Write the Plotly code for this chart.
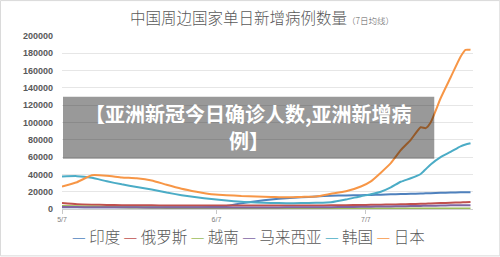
import pandas as pd
import plotly.graph_objects as go

# ---- data ----
start_date = "2021-05-07"
sample_days = [0, 3, 6, 9, 12, 15, 18, 21, 24, 27, 30, 33, 36, 39, 42, 45, 48, 51,
               54, 57, 60, 62, 64, 66, 68, 70, 72, 73, 74, 76, 78, 80, 81, 82]

india = [1900, 1900, 1900, 1900, 1900, 1900, 1900, 1900, 1900, 2000, 2200, 3500,
         6500, 9000, 11000, 12500, 13500, 14500, 15300, 15700, 16000, 16300, 16600,
         17000, 17300, 17500, 17900, 18100, 18300, 18700, 19000, 19400, 19500, 19400]
russia = [7000, 5600, 5000, 4600, 4400, 4300, 4200, 4100, 4000, 4000, 4000, 4000,
          4000, 4000, 4000, 4000, 4000, 4100, 4200, 4400, 4600, 4800, 5000, 5200,
          5400, 5700, 6000, 6200, 6400, 6800, 7200, 7600, 7800, 8100]
vietnam = [3600, 3200, 2800, 2400, 2000, 1700, 1500, 1300, 1200, 1100, 1000, 900,
           850, 800, 800, 750, 700, 700, 700, 650, 650, 650, 650, 650, 650, 650,
           650, 650, 650, 650, 650, 650, 650, 650]
malaysia = [2300, 2200, 2100, 2000, 1900, 1900, 1800, 1800, 1800, 1800, 1800, 1800,
            1800, 1800, 1800, 1900, 1900, 2000, 2100, 2300, 2500, 2700, 2900, 3000,
            3200, 3400, 3600, 3700, 3800, 4000, 4200, 4300, 4400, 4400]
korea = [37500, 38000, 36000, 32000, 28500, 25500, 22500, 19000, 16000, 13500, 11500,
         9800, 8300, 7500, 7000, 6700, 6800, 7200, 7900, 11000, 14800, 17000, 20000,
         25000, 31500, 35500, 40500, 46000, 51500, 60000, 66000, 72500, 74500, 76000]
japan = [26000, 31000, 39000, 38500, 36500, 35500, 33000, 28000, 23500, 20000, 17000,
         16000, 15000, 14500, 14000, 13500, 14000, 14500, 17500, 20500, 26000, 32000,
         42000, 53000, 68000, 80000, 94500, 93500, 100000, 128000, 152000, 176000,
         184000, 184000]

series_names = ["印度", "俄罗斯", "越南", "马来西亚", "韩国", "日本"]
series_values = [india, russia, vietnam, malaysia, korea, japan]
series_colors = ["#4f81bd", "#c0504d", "#9bbb59", "#8064a2", "#4bacc6", "#f79646"]

y_ticks = [0, 20000, 40000, 60000, 80000, 100000, 120000, 140000, 160000, 180000, 200000]
x_tick_dates = ["2021-05-07", "2021-06-07", "2021-07-07"]
x_tick_labels = ["5/7", "6/7", "7/7"]

title_main = "中国周边国家单日新增病例数量"
title_sub = "（7日均线）"
overlay_lines = ["【亚洲新冠今日确诊人数,亚洲新增病", "例】"]

# ---- layout geometry (pixels) ----
W, H = 500, 257
L, R, T, B = 62, 472.7, 36, 209.5

def px2x(px):
    return (px - L) / (R - L)

def px2y(py):
    return (B - py) / (B - T)

dates = pd.to_datetime(start_date) + pd.to_timedelta(sample_days, unit="D")

fig = go.Figure()
for name, vals, col in zip(series_names, series_values, series_colors):
    fig.add_trace(go.Scatter(
        x=dates, y=vals, mode="lines", name=name,
        line=dict(color=col, width=2, shape="spline", smoothing=0.5),
        showlegend=False,
    ))

x0 = pd.to_datetime(start_date)
x1 = x0 + pd.Timedelta(days=82.5)

fig.update_layout(
    width=W, height=H,
    margin=dict(l=L, r=W - R, t=T, b=H - B, pad=0),
    paper_bgcolor="white", plot_bgcolor="white",
    font=dict(family="Noto Sans CJK SC", color="#595959"),
    xaxis=dict(
        range=[x0, x1], showgrid=False, zeroline=False,
        showline=True, linecolor="#d0d0d0", linewidth=1,
        tickvals=pd.to_datetime(x_tick_dates), ticktext=x_tick_labels,
        ticks="outside", ticklen=4, tickcolor="#c8c8c8",
        tickfont=dict(family="Liberation Sans", size=7, color="#808080"),
    ),
    yaxis=dict(
        range=[0, 200000], tickvals=y_ticks, ticktext=[str(v) for v in y_ticks],
        showgrid=True, gridcolor="#e6e6e6", gridwidth=1, zeroline=False,
        showline=False, ticks="", ticklabelstandoff=8,
        tickfont=dict(family="Liberation Sans", size=9, color="#595959", weight="bold"),
    ),
)

# title
fig.add_annotation(
    xref="paper", yref="paper", x=px2x(262), y=px2y(17),
    text=(f"<span style='font-size:15.5px'>{title_main}</span>"
          f"<span style='font-size:8.5px'>{title_sub}</span>"),
    showarrow=False, xanchor="center", yanchor="middle",
    font=dict(family="Noto Sans CJK SC", color="#595959", weight=300),
)

# legend (compact, Excel style)
parts = []
for name, col in zip(series_names, series_colors):
    parts.append(f"<span style='color:{col}'>—</span> {name}")
fig.add_annotation(
    xref="paper", yref="paper", x=px2x(248), y=px2y(237),
    text=" ".join(parts), showarrow=False, xanchor="center", yanchor="middle",
    font=dict(family="Noto Sans CJK SC", size=15.5, color="#595959", weight=300),
)

# overlay box with caption
fig.add_shape(type="rect", xref="paper", yref="paper",
              x0=px2x(63), x1=px2x(434), y0=px2y(159), y1=px2y(97),
              fillcolor="rgba(0,0,0,0.4)", line=dict(width=0), layer="above")
for line_text, cy in zip(overlay_lines, [114, 141]):
    fig.add_annotation(
        xref="paper", yref="paper", x=px2x(248.5), y=px2y(cy),
        text=line_text, showarrow=False, xanchor="center", yanchor="middle",
        font=dict(family="Noto Sans CJK SC", size=20, color="white", weight="bold"),
    )

# outer chart border
fig.add_shape(type="rect", xref="paper", yref="paper",
              x0=px2x(0.5), x1=px2x(499.5), y0=px2y(256.5), y1=px2y(0.5),
              line=dict(color="#d9d9d9", width=1), fillcolor="rgba(0,0,0,0)",
              layer="below")

fig.write_html("out.html")
